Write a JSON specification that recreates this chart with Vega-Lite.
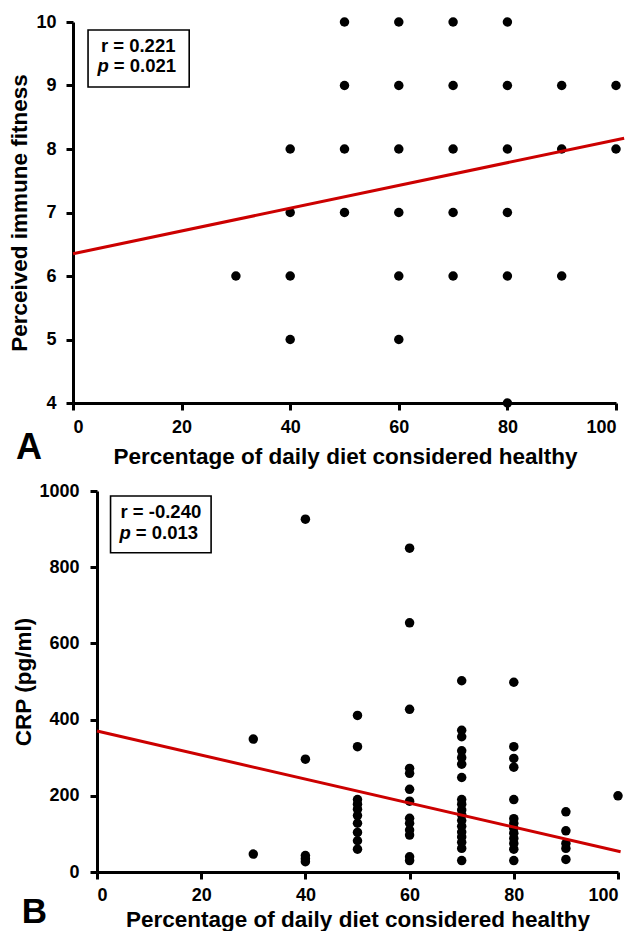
{
  "$schema": "https://vega.github.io/schema/vega-lite/v6.json",
  "background": "white",
  "padding": {"left": 8, "top": 13, "right": 0, "bottom": 0},
  "spacing": 14,
  "config": {
    "view": {"stroke": null},
    "font": "Liberation Sans",
    "axis": {
      "grid": false,
      "domainColor": "black",
      "domainWidth": 3,
      "tickColor": "black",
      "tickWidth": 3,
      "tickSize": 7,
      "labelFont": "Liberation Sans",
      "labelFontWeight": "bold",
      "labelFontSize": 18,
      "labelColor": "black",
      "titleFont": "Liberation Sans",
      "titleFontWeight": "bold",
      "titleFontSize": 22.5,
      "titleColor": "black"
    }
  },
  "datasets": {
    "a": [
      {"diet": 30, "fit": 6}, {"diet": 40, "fit": 5}, {"diet": 40, "fit": 6}, {"diet": 40, "fit": 7}, {"diet": 40, "fit": 8},
      {"diet": 50, "fit": 7}, {"diet": 50, "fit": 8}, {"diet": 50, "fit": 9}, {"diet": 50, "fit": 10},
      {"diet": 60, "fit": 5}, {"diet": 60, "fit": 6}, {"diet": 60, "fit": 7}, {"diet": 60, "fit": 8}, {"diet": 60, "fit": 9}, {"diet": 60, "fit": 10},
      {"diet": 70, "fit": 6}, {"diet": 70, "fit": 7}, {"diet": 70, "fit": 8}, {"diet": 70, "fit": 9}, {"diet": 70, "fit": 10},
      {"diet": 80, "fit": 4}, {"diet": 80, "fit": 6}, {"diet": 80, "fit": 7}, {"diet": 80, "fit": 8}, {"diet": 80, "fit": 9}, {"diet": 80, "fit": 10},
      {"diet": 90, "fit": 6}, {"diet": 90, "fit": 8}, {"diet": 90, "fit": 9},
      {"diet": 100, "fit": 8}, {"diet": 100, "fit": 9}
    ],
    "b": [
      {"diet": 30, "crp": 349}, {"diet": 30, "crp": 47},
      {"diet": 40, "crp": 926}, {"diet": 40, "crp": 296}, {"diet": 40, "crp": 43}, {"diet": 40, "crp": 35}, {"diet": 40, "crp": 27},
      {"diet": 50, "crp": 411}, {"diet": 50, "crp": 329}, {"diet": 50, "crp": 190}, {"diet": 50, "crp": 178}, {"diet": 50, "crp": 165}, {"diet": 50, "crp": 148}, {"diet": 50, "crp": 128}, {"diet": 50, "crp": 104}, {"diet": 50, "crp": 82}, {"diet": 50, "crp": 60},
      {"diet": 60, "crp": 850}, {"diet": 60, "crp": 654}, {"diet": 60, "crp": 427}, {"diet": 60, "crp": 272}, {"diet": 60, "crp": 259}, {"diet": 60, "crp": 217}, {"diet": 60, "crp": 186}, {"diet": 60, "crp": 141}, {"diet": 60, "crp": 128}, {"diet": 60, "crp": 110}, {"diet": 60, "crp": 97}, {"diet": 60, "crp": 40}, {"diet": 60, "crp": 30},
      {"diet": 70, "crp": 502}, {"diet": 70, "crp": 372}, {"diet": 70, "crp": 355}, {"diet": 70, "crp": 318}, {"diet": 70, "crp": 300}, {"diet": 70, "crp": 283}, {"diet": 70, "crp": 248}, {"diet": 70, "crp": 190}, {"diet": 70, "crp": 178}, {"diet": 70, "crp": 163}, {"diet": 70, "crp": 150}, {"diet": 70, "crp": 135}, {"diet": 70, "crp": 120}, {"diet": 70, "crp": 105}, {"diet": 70, "crp": 92}, {"diet": 70, "crp": 78}, {"diet": 70, "crp": 62}, {"diet": 70, "crp": 30},
      {"diet": 80, "crp": 498}, {"diet": 80, "crp": 329}, {"diet": 80, "crp": 298}, {"diet": 80, "crp": 275}, {"diet": 80, "crp": 190}, {"diet": 80, "crp": 140}, {"diet": 80, "crp": 128}, {"diet": 80, "crp": 115}, {"diet": 80, "crp": 102}, {"diet": 80, "crp": 88}, {"diet": 80, "crp": 75}, {"diet": 80, "crp": 60}, {"diet": 80, "crp": 30},
      {"diet": 90, "crp": 158}, {"diet": 90, "crp": 108}, {"diet": 90, "crp": 75}, {"diet": 90, "crp": 62}, {"diet": 90, "crp": 33},
      {"diet": 100, "crp": 200}
    ]
  },
  "vconcat": [
    {
      "width": 519,
      "height": 381,
      "encoding": {
        "x": {"type": "quantitative", "scale": {"domain": [0, 100], "nice": false, "range": [-24, 519]}},
        "y": {"type": "quantitative", "scale": {"domain": [4, 10], "nice": false}}
      },
      "layer": [
        {
          "data": {"values": [{"x1": 2.77, "x2": 21.4, "y1": 9.874, "y2": 8.976}]},
          "mark": {"type": "rect", "fill": "white", "stroke": "black", "strokeWidth": 1.6},
          "encoding": {
            "x": {"field": "x1", "type": "quantitative"}, "x2": {"field": "x2"},
            "y": {"field": "y1", "type": "quantitative"}, "y2": {"field": "y2"}
          }
        },
        {
          "data": {"name": "a"},
          "mark": {"type": "circle", "size": 90, "color": "black", "opacity": 1},
          "encoding": {
            "x": {"field": "diet", "type": "quantitative", "title": "Percentage of daily diet considered healthy",
                  "axis": {"values": [0, 20, 40, 60, 80, 100], "format": "d", "labelPadding": 8, "titlePadding": 9, "titleX": 248}},
            "y": {"field": "fit", "type": "quantitative", "title": "Perceived immune fitness",
                  "axis": {"values": [4, 5, 6, 7, 8, 9, 10], "format": "d", "labelPadding": 10, "titlePadding": 4, "offset": 24}}
          }
        },
        {
          "data": {"values": [{"x1": 0, "y1": 6.35, "x2": 101.5, "y2": 8.17}]},
          "mark": {"type": "rule", "color": "#cc0000", "strokeWidth": 3},
          "encoding": {
            "x": {"field": "x1", "type": "quantitative"}, "x2": {"field": "x2"},
            "y": {"field": "y1", "type": "quantitative"}, "y2": {"field": "y2"}
          }
        },
        {
          "data": {"values": [
            {"t": "r = 0.221", "x": 12.0, "y": 9.62, "al": "center", "st": "normal", "dx": 0},
            {"t": "= 0.021", "x": 6.6, "y": 9.31, "al": "left", "st": "normal", "dx": 5},
            {"t": "p", "x": 6.6, "y": 9.31, "al": "right", "st": "italic", "dx": 0}
          ]},
          "mark": {"type": "text", "fontSize": 18.5, "fontWeight": "bold", "color": "black", "baseline": "middle",
                   "align": {"expr": "datum.al"}, "fontStyle": {"expr": "datum.st"}, "dx": {"expr": "datum.dx"}},
          "encoding": {
            "x": {"field": "x", "type": "quantitative"},
            "y": {"field": "y", "type": "quantitative"},
            "text": {"field": "t"}
          }
        },
        {
          "data": {"values": [{"t": "A", "x": -8.1, "y": 3.12}]},
          "mark": {"type": "text", "fontSize": 36, "fontWeight": "bold", "color": "black", "baseline": "alphabetic", "align": "center"},
          "encoding": {
            "x": {"field": "x", "type": "quantitative"},
            "y": {"field": "y", "type": "quantitative"},
            "text": {"field": "t"}
          }
        }
      ]
    },
    {
      "width": 521,
      "height": 381,
      "encoding": {
        "x": {"type": "quantitative", "scale": {"domain": [0, 100], "nice": false}},
        "y": {"type": "quantitative", "scale": {"domain": [0, 1000], "nice": false}}
      },
      "layer": [
        {
          "data": {"values": [{"x1": 2.6, "x2": 21.9, "y1": 987, "y2": 838}]},
          "mark": {"type": "rect", "fill": "white", "stroke": "black", "strokeWidth": 1.6},
          "encoding": {
            "x": {"field": "x1", "type": "quantitative"}, "x2": {"field": "x2"},
            "y": {"field": "y1", "type": "quantitative"}, "y2": {"field": "y2"}
          }
        },
        {
          "data": {"name": "b"},
          "mark": {"type": "circle", "size": 90, "color": "black", "opacity": 1},
          "encoding": {
            "x": {"field": "diet", "type": "quantitative", "title": "Percentage of daily diet considered healthy",
                  "axis": {"values": [0, 20, 40, 60, 80, 100], "format": "d", "labelPadding": 7, "titlePadding": 4}},
            "y": {"field": "crp", "type": "quantitative", "title": "CRP (pg/ml)",
                  "axis": {"values": [0, 200, 400, 600, 800, 1000], "format": "d", "labelPadding": 11, "titlePadding": 3}}
          }
        },
        {
          "data": {"values": [{"x1": 0, "y1": 370, "x2": 100.5, "y2": 53}]},
          "mark": {"type": "rule", "color": "#cc0000", "strokeWidth": 3},
          "encoding": {
            "x": {"field": "x1", "type": "quantitative"}, "x2": {"field": "x2"},
            "y": {"field": "y1", "type": "quantitative"}, "y2": {"field": "y2"}
          }
        },
        {
          "data": {"values": [
            {"t": "r = -0.240", "x": 12.26, "y": 946, "al": "center", "st": "normal", "dx": 0},
            {"t": "= 0.013", "x": 6.5, "y": 891, "al": "left", "st": "normal", "dx": 5},
            {"t": "p", "x": 6.5, "y": 891, "al": "right", "st": "italic", "dx": 0}
          ]},
          "mark": {"type": "text", "fontSize": 18.5, "fontWeight": "bold", "color": "black", "baseline": "middle",
                   "align": {"expr": "datum.al"}, "fontStyle": {"expr": "datum.st"}, "dx": {"expr": "datum.dx"}},
          "encoding": {
            "x": {"field": "x", "type": "quantitative"},
            "y": {"field": "y", "type": "quantitative"},
            "text": {"field": "t"}
          }
        },
        {
          "data": {"values": [{"t": "B", "x": -12, "y": -134}]},
          "mark": {"type": "text", "fontSize": 35, "fontWeight": "bold", "color": "black", "baseline": "alphabetic", "align": "center"},
          "encoding": {
            "x": {"field": "x", "type": "quantitative"},
            "y": {"field": "y", "type": "quantitative"},
            "text": {"field": "t"}
          }
        }
      ]
    }
  ]
}
